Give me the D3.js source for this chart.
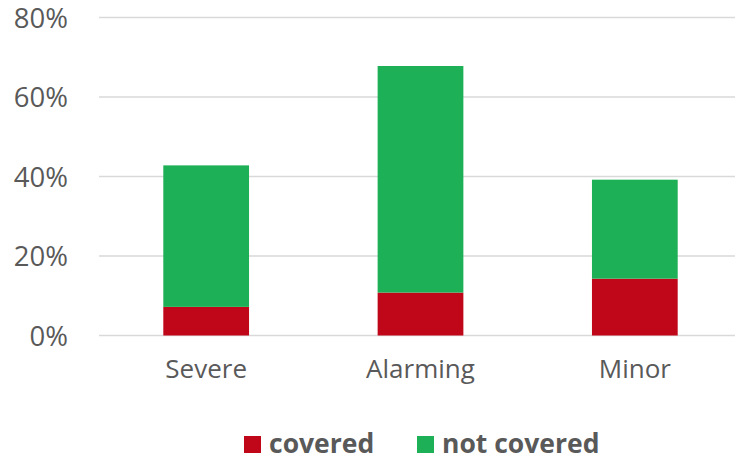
<!DOCTYPE html>
<html>
<head>
<meta charset="utf-8">
<script src="https://cdn.jsdelivr.net/npm/d3@7"></script>
<style>
  html, body { margin: 0; padding: 0; background: #fff; }
  svg { display: block; }
  text { font-family: "Open Sans", "Liberation Sans", sans-serif; fill: #595959; }
</style>
</head>
<body>
<svg id="chart" width="735" height="461"></svg>
<script>
// Share of cases per severity level, split by coverage
const categories = ["Severe", "Alarming", "Minor"];
const covered = [0.072, 0.108, 0.143];
const notCovered = [0.356, 0.570, 0.249];
const seriesNames = ["covered", "not covered"];
const seriesColors = ["#C0071A", "#1DB056"];
const yTicks = [0, 0.2, 0.4, 0.6, 0.8];

const svg = d3.select("#chart");
const W = 735, H = 461;
const plot = { left: 99, right: 742, top: 17.5, bottom: 335.5 };

const x = d3.scaleBand()
  .domain(categories)
  .range([plot.left, plot.right])
  .paddingInner(0.6)
  .paddingOuter(0.3);

const y = d3.scaleLinear()
  .domain([0, 0.8])
  .range([plot.bottom, plot.top]);

// Horizontal gridlines
svg.append("g")
  .selectAll("line")
  .data(yTicks)
  .join("line")
  .attr("x1", plot.left)
  .attr("x2", W)
  .attr("y1", d => y(d))
  .attr("y2", d => y(d))
  .attr("stroke", "#D9D9D9")
  .attr("stroke-width", 1.3);

// Y axis labels
const yAxis = d3.axisLeft(y)
  .tickValues(yTicks)
  .tickFormat(d3.format(".0%"))
  .tickSize(0)
  .tickPadding(0);
const yg = svg.append("g")
  .attr("transform", `translate(68,0)`)
  .call(yAxis);
yg.select(".domain").remove();
yg.selectAll("text")
  .attr("font-size", 27.5)
  .attr("font-family", null)
  .attr("fill", "#595959")
  .attr("dy", "0.36em");

// Stacked bars
const rows = categories.map((c, i) => ({ cat: c, covered: covered[i], "not covered": notCovered[i] }));
const stack = d3.stack().keys(seriesNames)(rows);

svg.append("g")
  .selectAll("g")
  .data(stack)
  .join("g")
  .attr("fill", (d, i) => seriesColors[i])
  .selectAll("rect")
  .data(d => d)
  .join("rect")
  .attr("x", d => x(d.data.cat))
  .attr("width", x.bandwidth())
  .attr("y", d => y(d[1]))
  .attr("height", d => y(d[0]) - y(d[1]));

// Category labels
const xAxis = d3.axisBottom(x).tickSize(0).tickPadding(0);
const xg = svg.append("g")
  .attr("transform", `translate(0,${plot.bottom + 42})`)
  .call(xAxis);
xg.select(".domain").remove();
xg.selectAll("text")
  .attr("font-size", 26)
  .attr("font-family", null)
  .attr("fill", "#595959")
  .attr("dy", 0);

// Legend
const legendItems = [
  { name: seriesNames[0], color: seriesColors[0], x: 244 },
  { name: seriesNames[1], color: seriesColors[1], x: 417 }
];
const lg = svg.append("g");
const li = lg.selectAll("g")
  .data(legendItems)
  .join("g")
  .attr("transform", d => `translate(${d.x},436)`);
li.append("rect")
  .attr("width", 17)
  .attr("height", 17)
  .attr("fill", d => d.color);
li.append("text")
  .attr("x", 25)
  .attr("y", 17)
  .attr("font-size", 26.5)
  .attr("font-weight", "bold")
  .text(d => d.name);
</script>
</body>
</html>
